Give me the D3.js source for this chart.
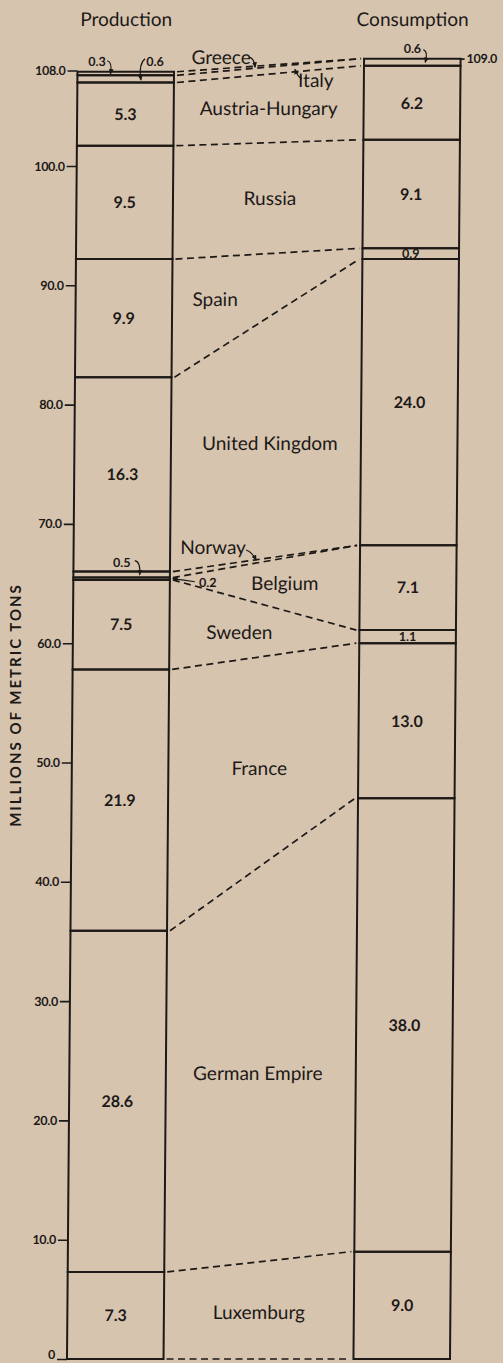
<!DOCTYPE html>
<html>
<head>
    <meta charset="utf-8" />
    <title>Production and Consumption</title>
    <script src="https://d3js.org/d3.v7.min.js"></script>
    <style>
        body { margin: 0; background: #d7c4af; }
        svg { display: block; }
        text { font-family: Lato, "Open Sans", sans-serif; fill: #1c1917; }
        .axis text { font-size: 12.5px; font-weight: 700; letter-spacing: -0.3px; }
        .axis line { stroke: #1c1917; stroke-width: 1.6; }
        .title { font-size: 19px; }
        .country { font-size: 19px; }
        .value { font-size: 16px; font-weight: 700; }
        .small { font-size: 12.5px; font-weight: 700; }
        .ytitle { font-size: 15px; font-weight: 700; letter-spacing: 2px; }
    </style>
</head>
<body>
    <div id="the-chart"></div>
    <script>
        // bottom to top, as stacked in both columns
        var countries = ["Luxemburg", "German Empire", "France", "Sweden", "Belgium", "Norway",
            "United Kingdom", "Spain", "Russia", "Austria-Hungary", "Italy", "Greece"];
        var production = [7.3, 28.6, 21.9, 7.5, 0.2, 0.5, 16.3, 9.9, 9.5, 5.3, 0.6, 0.3];
        var consumption = [9.0, 38.0, 13.0, 1.1, 7.1, 0, 24.0, 0.9, 9.1, 6.2, 0.6, 0];
        var columns = ["Production", "Consumption"];
        var yTicks = [0, 10, 20, 30, 40, 50, 60, 70, 80, 90, 100, 108];
        var consTotal = [109];
        var yTitle = "MILLIONS OF METRIC TONS";

        var ink = "#1c1917";

        var svg = d3.select("#the-chart").append("svg")
            .attr("width", 503)
            .attr("height", 1363);

        svg.append("defs").append("marker")
            .attr("id", "arrow")
            .attr("viewBox", "0 0 10 10")
            .attr("refX", 8).attr("refY", 5)
            .attr("markerWidth", 5).attr("markerHeight", 5)
            .attr("orient", "auto")
            .append("path")
            .attr("d", "M0,1 L10,5 L0,9 Z")
            .attr("fill", ink);

        // the printed page is a little skewed, bars lean right toward the top
        var g = svg.append("g")
            .attr("transform", "matrix(1,0,-0.00815,1,11.07,0)");

        var x = d3.scaleBand().domain(columns).range([67, 450]).paddingInner(0.663),
            y = d3.scaleLinear().domain([0, 100]).range([1359, 166]);

        var px = x("Production"), cx = x("Consumption"), bw = x.bandwidth(),
            gapMid = (px + bw + cx) / 2;

        function stackUp(values) {
            var acc = 0;
            return values.map(function (v, i) {
                var s = { name: countries[i], y0: acc, y1: acc + v, v: v };
                acc += v;
                return s;
            });
        }

        var stacks = { Production: stackUp(production), Consumption: stackUp(consumption) };

        // y axis title
        svg.append("text")
            .attr("class", "ytitle")
            .attr("transform", "translate(21,705) rotate(-90)")
            .attr("text-anchor", "middle")
            .text(yTitle);

        // column titles
        g.selectAll("text.title")
            .data(columns)
            .enter().append("text")
            .attr("class", "title")
            .attr("x", function (d) { return x(d) + bw / 2; })
            .attr("y", 26)
            .attr("text-anchor", "middle")
            .text(function (d) { return d; });

        // dashed connectors between matching boundaries
        var links = [{ p: 0, c: 0 }].concat(countries.map(function (c, i) {
            return { p: stacks.Production[i].y1, c: stacks.Consumption[i].y1 };
        }));

        g.selectAll("line.link")
            .data(links)
            .enter().append("line")
            .attr("class", "link")
            .attr("x1", px + bw + 3)
            .attr("y1", function (d) { return y(d.p); })
            .attr("x2", cx - 3)
            .attr("y2", function (d) { return y(d.c); })
            .attr("stroke", ink)
            .attr("stroke-width", 1.7)
            .attr("stroke-dasharray", "7,4.5");

        // stacked segments
        columns.forEach(function (col) {
            g.selectAll(null)
                .data(stacks[col])
                .enter().append("rect")
                .attr("x", x(col))
                .attr("width", bw)
                .attr("y", function (d) { return y(d.y1); })
                .attr("height", function (d) { return y(d.y0) - y(d.y1); })
                .attr("fill", "none")
                .attr("stroke", ink)
                .attr("stroke-width", 2);
        });

        // axes
        var yAxis = g.append("g")
            .attr("class", "axis")
            .attr("transform", "translate(" + px + ",0)")
            .call(d3.axisLeft(y).tickValues(yTicks).tickSize(10).tickPadding(2)
                .tickFormat(function (d) { return d === 0 ? "0" : d3.format(".1f")(d); }));
        yAxis.select(".domain").remove();
        // the zero label sits on its tick rather than across it
        yAxis.selectAll(".tick text")
            .filter(function (d) { return d === 0; })
            .attr("dy", "-0.05em");

        var cAxis = g.append("g")
            .attr("class", "axis")
            .attr("transform", "translate(" + (cx + bw) + ",0)")
            .call(d3.axisRight(y).tickValues(consTotal).tickSize(4).tickPadding(2).tickFormat(d3.format(".1f")));
        cAxis.select(".domain").remove();

        // value labels inside the segments
        columns.forEach(function (col) {
            var inside = stacks[col].filter(function (d) { return d.v >= 0.8; });
            g.selectAll(null)
                .data(inside)
                .enter().append("text")
                .attr("class", function (d) { return d.v < 2 ? "small" : "value"; })
                .attr("x", x(col) + bw / 2)
                .attr("y", function (d) { return y((d.y0 + d.y1) / 2); })
                .attr("dy", "0.36em")
                .attr("text-anchor", "middle")
                .text(function (d) { return d3.format(".1f")(d.v); });
        });

        // tiny segments get a label outside with a hooked pointer
        var yTop = y(stacks.Production[11].y1);
        var notes = {
            "Greece|Production": { x: px + 19.5, y: yTop - 6, lead: [[px + 29.5, yTop - 11], [px + 35, yTop - 10], [px + 33, yTop + 2]] },
            "Italy|Production": { x: px + 77.5, y: yTop - 6, lead: [[px + 67.5, yTop - 13], [px + 61, yTop - 8], [px + 63.5, yTop + 8]] },
            "Italy|Consumption": { x: cx + bw / 2, y: y(109) - 6, lead: [[cx + bw / 2 + 11, y(109) - 9], [cx + bw / 2 + 16, y(109) - 7], [cx + bw / 2 + 13, y(108.7)]] },
            "Norway|Production": { x: px + bw / 2, y: y(66) - 5, lead: [[px + bw / 2 + 13, y(66) - 11], [px + bw / 2 + 19, y(66) - 10], [px + bw / 2 + 18, y(65.75)]] },
            "Belgium|Production": { x: px + bw + 38, y: y(65.4) + 8, lead: [[px + bw + 25, y(65.4) + 3], [px + bw + 14, y(65.4) + 1], [px + bw + 3, y(65.4)]] }
        };

        columns.forEach(function (col) {
            stacks[col].forEach(function (d) {
                var n = notes[d.name + "|" + col];
                if (!n || d.v === 0) return;
                g.append("text")
                    .attr("class", "small")
                    .attr("x", n.x)
                    .attr("y", n.y)
                    .attr("text-anchor", "middle")
                    .text(d3.format(".1f")(d.v));
                g.append("path")
                    .attr("d", "M" + n.lead[0] + " Q" + n.lead[1] + " " + n.lead[2])
                    .attr("fill", "none")
                    .attr("stroke", ink)
                    .attr("stroke-width", 1.2)
                    .attr("marker-end", "url(#arrow)");
            });
        });

        // country names in the gap; some are nudged the way the draughtsman placed them
        var nudge = {
            "Luxemburg": [0, 2], "German Empire": [-3, 10], "France": [-4, 8],
            "Sweden": [-25, 2], "Belgium": [20, 0],
            "Norway": [-52, -13, [[33, 3], [39, 5], [43, 13]]],
            "United Kingdom": [4, 5], "Spain": [-52, 13], "Russia": [2, 0], "Austria-Hungary": [0, 0],
            "Italy": [47, 10, [[-14, -2], [-18, -3], [-21, -11]]],
            "Greece": [-48, -9, [[28, 0], [33, 1], [34, 10]]]
        };

        countries.forEach(function (name, i) {
            var p = stacks.Production[i], c = stacks.Consumption[i],
                mid = ((p.y0 + p.y1) / 2 + (c.y0 + c.y1) / 2) / 2,
                off = nudge[name],
                lx = gapMid + off[0],
                ly = y(mid) + off[1];

            g.append("text")
                .attr("class", "country")
                .attr("x", lx)
                .attr("y", ly)
                .attr("dy", "0.35em")
                .attr("text-anchor", "middle")
                .text(name);

            if (off[2]) {
                var l = off[2];
                g.append("path")
                    .attr("d", "M" + (lx + l[0][0]) + "," + (ly + l[0][1]) +
                        " Q" + (lx + l[1][0]) + "," + (ly + l[1][1]) +
                        " " + (lx + l[2][0]) + "," + (ly + l[2][1]))
                    .attr("fill", "none")
                    .attr("stroke", ink)
                    .attr("stroke-width", 1.2)
                    .attr("marker-end", "url(#arrow)");
            }
        });
    </script>
</body>
</html>
